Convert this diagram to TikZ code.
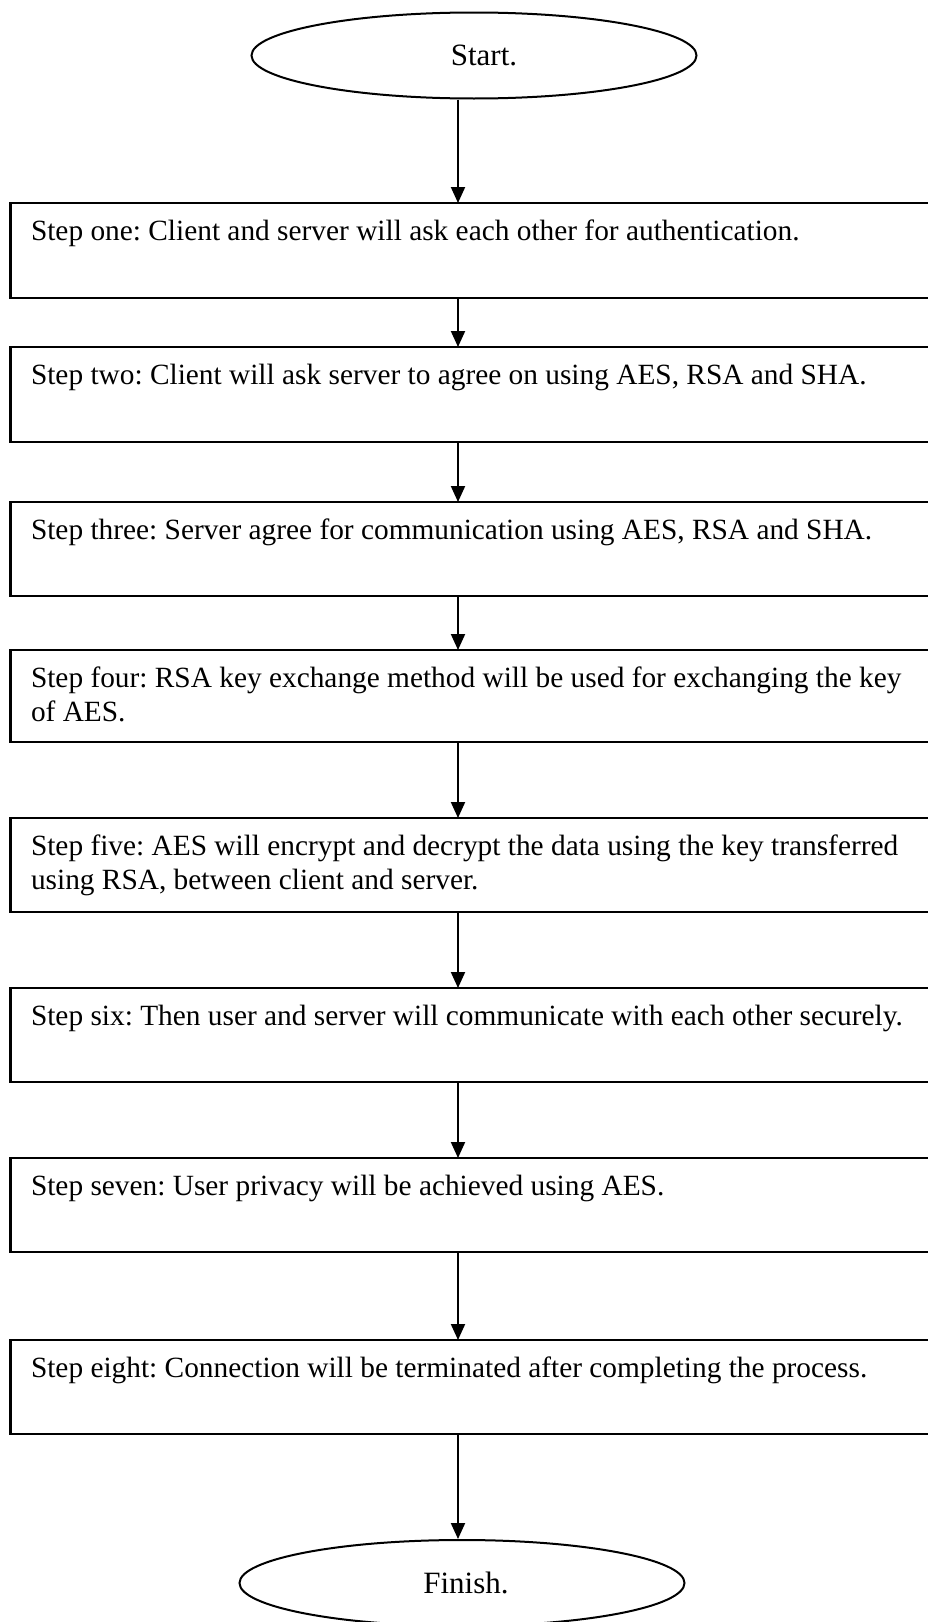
\documentclass[tikz,border=0pt]{standalone}
\usepackage{fontspec}
\setmainfont{Liberation Serif}
\usetikzlibrary{arrows.meta,shapes.geometric}
\frenchspacing
\begin{document}
\begin{tikzpicture}[x=1pt,y=1pt,
  stepbox/.style={draw, line width=2.3pt, rectangle, anchor=north west, minimum width=940pt, inner sep=0pt, outer sep=0pt},
  steptext/.style={anchor=base west, inner sep=0pt, outer sep=0pt, font=\fontsize{29.35}{34}\selectfont\frenchspacing},
  term/.style={draw, line width=2pt, ellipse, minimum width=445pt, minimum height=86pt, inner sep=0pt, font=\fontsize{31}{36}\selectfont},
  flow/.style={-{Triangle[width=14pt,length=16pt]}, line width=2pt}]
\useasboundingbox (0,0) rectangle (928,-1622);
\clip (0,0) rectangle (928,-1622);
\coordinate (ax) at (458,0);

\node[term] (start) at (474,-55.5) {\hspace*{20pt}Start.};

\node[stepbox, minimum height=95pt] (b1) at (10.5,-203) {};
\node[stepbox, minimum height=95pt] (b2) at (10.5,-347) {};
\node[stepbox, minimum height=94pt] (b3) at (10.5,-502) {};
\node[stepbox, minimum height=92pt] (b4) at (10.5,-650) {};
\node[stepbox, minimum height=94pt] (b5) at (10.5,-818) {};
\node[stepbox, minimum height=94pt] (b6) at (10.5,-988) {};
\node[stepbox, minimum height=94pt] (b7) at (10.5,-1158) {};
\node[stepbox, minimum height=94pt] (b8) at (10.5,-1340) {};

\node[steptext] (t1) at ([shift={(20.5,-37.7)}]b1.north west) {\parbox[t]{900pt}{\raggedright Step one: Client and server will ask each other for authentication.}};
\node[steptext] (t2) at ([shift={(20.5,-37.7)}]b2.north west) {\parbox[t]{900pt}{\raggedright Step two: Client will ask server to agree on using AES, RSA and SHA.}};
\node[steptext] (t3) at ([shift={(20.5,-37.7)}]b3.north west) {\parbox[t]{900pt}{\raggedright Step three: Server agree for communication using AES, RSA and SHA.}};
\node[steptext] (t4) at ([shift={(20.5,-37.7)}]b4.north west) {\parbox[t]{900pt}{\raggedright Step four: RSA key exchange method will be used for exchanging the key\\of AES.}};
\node[steptext] (t5) at ([shift={(20.5,-37.7)}]b5.north west) {\parbox[t]{900pt}{\raggedright Step five: AES will encrypt and decrypt the data using the key transferred\\using RSA, between client and server.}};
\node[steptext] (t6) at ([shift={(20.5,-37.7)}]b6.north west) {\parbox[t]{900pt}{\raggedright Step six: Then user and server will communicate with each other securely.}};
\node[steptext] (t7) at ([shift={(20.5,-37.7)}]b7.north west) {\parbox[t]{900pt}{\raggedright Step seven: User privacy will be achieved using AES.}};
\node[steptext] (t8) at ([shift={(20.5,-37.7)}]b8.north west) {\parbox[t]{900pt}{\raggedright Step eight: Connection will be terminated after completing the process.}};

\node[term] (finish) at (462,-1583) {\hspace*{8pt}Finish.};

\draw[flow] (start.south -| ax) -- (b1.north -| ax);
\draw[flow] (b1.south -| ax) -- (b2.north -| ax);
\draw[flow] (b2.south -| ax) -- (b3.north -| ax);
\draw[flow] (b3.south -| ax) -- (b4.north -| ax);
\draw[flow] (b4.south -| ax) -- (b5.north -| ax);
\draw[flow] (b5.south -| ax) -- (b6.north -| ax);
\draw[flow] (b6.south -| ax) -- (b7.north -| ax);
\draw[flow] (b7.south -| ax) -- (b8.north -| ax);
\draw[flow] (b8.south -| ax) -- (finish.north -| ax);
\end{tikzpicture}
\end{document}
